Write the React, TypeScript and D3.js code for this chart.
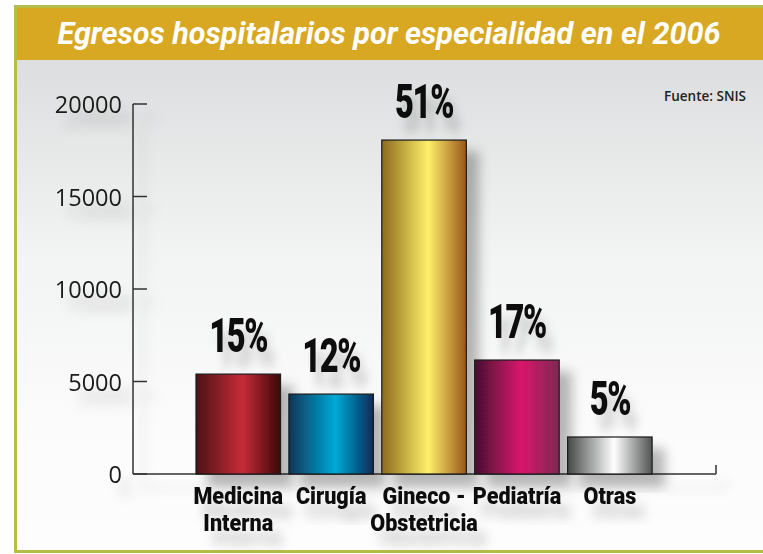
import React from 'react';
import * as d3 from 'd3';

// data
const categories = ['Medicina Interna', 'Cirugía', 'Gineco - Obstetricia', 'Pediatría', 'Otras'];
const labelLines = [['Medicina', 'Interna'], ['Cirugía'], ['Gineco -', 'Obstetricia'], ['Pediatría'], ['Otras']];
const egresos = [5400, 4320, 18050, 6160, 2000];
const percents = ['15%', '12%', '51%', '17%', '5%'];
const yTicks = [0, 5000, 10000, 15000, 20000];
const barColors = [
  ['#4a1216', '#c72c37', '#3a0608'],
  ['#0a3558', '#03aad8', '#082a55'],
  ['#8c6a1e', '#fff06a', '#98561a'],
  ['#45102f', '#d9166c', '#7d2a52'],
  ['#454747', '#ffffff', '#505252'],
];

const W = 763;
const H = 554;

export default function App() {
  const x = d3.scaleBand<string>()
    .domain(categories)
    .range([191.8, 656.3])
    .paddingInner(0.09)
    .paddingOuter(0.045);
  const y = d3.scaleLinear().domain([0, 20000]).range([474, 104]);

  const axisX = 133;
  const axisEnd = 716;
  const condensed = "Roboto, 'DejaVu Sans', sans-serif";

  return (
    <svg width={W} height={H} style={{ position: 'absolute', left: 0, top: 0 }}>
      <defs>
        <linearGradient id="bg" x1="0" y1="0" x2="0" y2="1">
          <stop offset="0" stopColor="#d6d8d9" />
          <stop offset="0.45" stopColor="#f2f3f3" />
          <stop offset="0.8" stopColor="#fcfcfc" />
          <stop offset="1" stopColor="#fdfdfd" />
        </linearGradient>
        {barColors.map((c, i) => (
          <linearGradient key={i} id={`bar${i}`} x1="0" y1="0" x2="1" y2="0">
            <stop offset="0" stopColor={c[0]} />
            <stop offset="0.55" stopColor={c[1]} />
            <stop offset="1" stopColor={c[2]} />
          </linearGradient>
        ))}
        <filter id="shadow" x="-50%" y="-50%" width="200%" height="200%">
          <feDropShadow dx="12" dy="12" stdDeviation="6" floodColor="#000" floodOpacity="0.28" />
        </filter>
        <filter id="shadowSoft" x="-50%" y="-50%" width="200%" height="200%">
          <feDropShadow dx="10" dy="14" stdDeviation="6" floodColor="#000" floodOpacity="0.2" />
        </filter>
      </defs>

      {/* frame */}
      <rect x={15.5} y={6.5} width={W} height={H - 9} fill="url(#bg)" stroke="#b4bd45" strokeWidth={3} />
      <rect x={17} y={8} width={W - 17} height={52} fill="#d8a823" />
      <text
        x={389}
        y={44}
        textAnchor="middle"
        fill="#fff"
        fontFamily="Roboto, sans-serif"
        fontWeight="bold"
        fontStyle="italic"
        fontSize={31}
        textLength={663}
        lengthAdjust="spacingAndGlyphs"
      >
        Egresos hospitalarios por especialidad en el 2006
      </text>
      <text x={746} y={101} textAnchor="end" fill="#222" fontFamily="'Open Sans', sans-serif" fontWeight={600} fontSize={13.5}>
        Fuente: SNIS
      </text>

      {/* y axis */}
      <g filter="url(#shadowSoft)">
        <line x1={axisX} x2={axisX} y1={y(20000)} y2={y(0)} stroke="#333" strokeWidth={1.5} />
        {yTicks.map((t) => (
          <g key={t}>
            <line x1={axisX} x2={axisX + 14} y1={y(t)} y2={y(t)} stroke="#333" strokeWidth={1.5} />
            <text x={122} y={y(t) + 9} textAnchor="end" fill="#1a1a1a" fontFamily="'Open Sans', sans-serif" fontSize={23.5}>
              {t}
            </text>
          </g>
        ))}
        <line x1={axisX} x2={axisEnd} y1={y(0)} y2={y(0)} stroke="#333" strokeWidth={1.5} />
        <line x1={axisEnd} x2={axisEnd} y1={y(0) - 9} y2={y(0)} stroke="#333" strokeWidth={1.5} />
      </g>

      {/* bars */}
      {categories.map((c, i) => (
        <rect
          key={c}
          x={x(c)}
          y={y(egresos[i])}
          width={x.bandwidth()}
          height={y(0) - y(egresos[i])}
          fill={`url(#bar${i})`}
          stroke="#1a1a1a"
          strokeWidth={1.2}
          filter="url(#shadow)"
        />
      ))}

      {/* percentage labels */}
      {categories.map((c, i) => {
        const cx = (x(c) as number) + x.bandwidth() / 2;
        return (
          <g key={c} transform={`translate(${cx},${y(egresos[i]) - 22}) scale(0.68,1)`} filter="url(#shadowSoft)">
            <text textAnchor="middle" fill="#111" fontFamily={condensed} fontWeight={900} fontSize={48} letterSpacing={-2}>
              {percents[i]}
            </text>
          </g>
        );
      })}

      {/* category labels */}
      {categories.map((c, i) => {
        const cx = (x(c) as number) + x.bandwidth() / 2;
        return (
          <g key={c} transform={`translate(${cx},504) scale(0.9,1)`} filter="url(#shadowSoft)">
            {labelLines[i].map((line, j) => (
              <text key={j} y={j * 27} textAnchor="middle" fill="#111" fontFamily={condensed} fontWeight={900} fontSize={24}>
                {line}
              </text>
            ))}
          </g>
        );
      })}
    </svg>
  );
}
